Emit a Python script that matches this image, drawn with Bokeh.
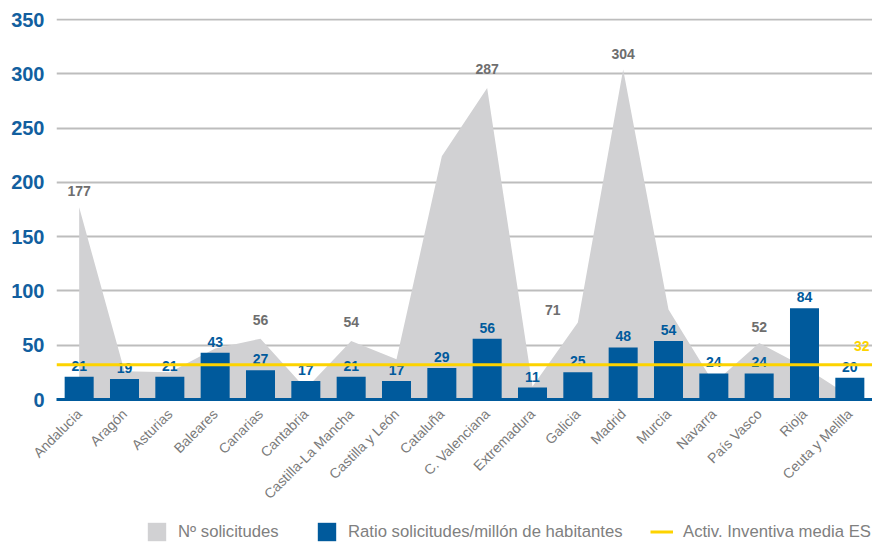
from bokeh.plotting import figure
from bokeh.models import (ColumnDataSource, FactorRange, Range1d, Span, Legend, LegendItem)
from bokeh.layouts import column
from bokeh.core.properties import value
from bokeh.embed import file_html
from bokeh.resources import INLINE
import math

# ---------------- data ----------------
regions = ["Andalucia", "Aragón", "Asturias", "Baleares", "Canarias", "Cantabria",
           "Castilla-La Mancha", "Castilla y León", "Cataluña", "C. Valenciana",
           "Extremadura", "Galicia", "Madrid", "Murcia", "Navarra", "País Vasco",
           "Rioja", "Ceuta y Melilla"]
solicitudes = [177, 26, 25, 47, 56, 10, 54, 37, 224, 287, 12, 71, 304, 83, 15, 52, 30, 3]
solicitudes_labels = ["177", "", "", "", "56", "", "54", "", "", "287", "", "71",
                      "304", "", "", "52", "", ""]
ratio = [21, 19, 21, 43, 27, 17, 21, 17, 29, 56, 11, 25, 48, 54, 24, 24, 84, 20]
media_es = 32
y_ticks = [0, 50, 100, 150, 200, 250, 300, 350]

series_names = ["Nº solicitudes", "Ratio solicitudes/millón de habitantes",
                "Activ. Inventiva media ES"]

# ---------------- style ----------------
BLUE = "#005a9c"
GRAY_AREA = "#d1d1d3"
GRID = "#bdbdbd"
YELLOW = "#fdd300"
TXT_GRAY = "#6e6e6e"
AXIS_BLUE = "#125f9f"
ARIAL = "'Liberation Sans', Arial, sans-serif"

p = figure(width=872, height=520, x_range=FactorRange(factors=regions, range_padding=0),
           y_range=Range1d(0, 351), output_backend="svg", toolbar_location=None,
           min_border_left=56, min_border_right=0, min_border_top=18, min_border_bottom=121)
p.outline_line_color = None
p.background_fill_color = "white"

# grid
p.xgrid.grid_line_color = None
p.ygrid.grid_line_color = GRID
p.ygrid.grid_line_width = 2
p.yaxis.ticker = y_ticks

# y axis
p.yaxis.axis_line_color = None
p.yaxis.major_tick_line_color = None
p.yaxis.minor_tick_line_color = None
p.yaxis.major_tick_out = 0
p.yaxis.major_tick_in = 0
p.yaxis.major_label_standoff = 12
p.yaxis.major_label_text_font = ARIAL
p.yaxis.major_label_text_font_size = "20px"
p.yaxis.major_label_text_font_style = "bold"
p.yaxis.major_label_text_color = AXIS_BLUE

# x axis
p.xaxis.axis_line_color = BLUE
p.xaxis.axis_line_width = 3
p.xaxis.major_tick_line_color = None
p.xaxis.minor_tick_line_color = None
p.xaxis.major_tick_out = 0
p.xaxis.major_tick_in = 0
p.xaxis.major_label_orientation = math.pi / 4
p.xaxis.major_label_standoff = 12
p.xaxis.major_label_text_font = ARIAL
p.xaxis.major_label_text_font_size = "14px"
p.xaxis.major_label_text_color = "#7a7a7a"

src = ColumnDataSource(dict(region=regions, sol=solicitudes, sol_lab=solicitudes_labels,
                            ratio=ratio, ratio_lab=[str(v) for v in ratio]))
src.data["lab_dx"] = [(-25 if r == "Galicia" else 0) for r in regions]
src.data["lab_dy"] = [(-12 if r == "Galicia" else -19 if r in ("C. Valenciana", "Canarias", "Castilla-La Mancha") else -16)
                      for r in regions]

area = p.varea(x="region", y1=0, y2="sol", source=src, fill_color=GRAY_AREA)

p.text(x="region", y="sol", text="sol_lab", source=src, x_offset="lab_dx", y_offset="lab_dy",
       text_align="center", text_baseline="alphabetic", text_font=value(ARIAL),
       text_font_size="14px", text_font_style="bold", text_color=TXT_GRAY)

bars = p.vbar(x="region", top="ratio", bottom=0, width=0.64, source=src,
              fill_color=BLUE, line_color=None)

p.text(x="region", y="ratio", text="ratio_lab", source=src, y_offset=-11,
       text_align="center", text_baseline="alphabetic", text_font=value(ARIAL),
       text_font_size="14px", text_font_style="bold", text_color=BLUE)

p.add_layout(Span(location=media_es, dimension="width", line_color=YELLOW, line_width=3))
p.text(x=[regions[-1]], y=[media_es], text=[str(media_es)], x_offset=12, y_offset=-19,
       text_align="center", text_baseline="alphabetic", text_font=value(ARIAL),
       text_font_size="14px", text_font_style="bold", text_color=YELLOW)

# ---------------- legend strip ----------------
lg = figure(width=872, height=29, x_range=Range1d(0, 1), y_range=Range1d(10, 11),
            output_backend="svg", toolbar_location=None,
            x_axis_location=None, y_axis_location=None,
            min_border_left=0, min_border_right=0, min_border_top=0, min_border_bottom=0)
lg.grid.visible = False
lg.outline_line_color = None
# legend swatches only (kept outside the visible range of the strip)
r_area = lg.varea(x=[0, 1], y1=[0, 0], y2=[0, 0], fill_color=GRAY_AREA)
r_bar = lg.vbar(x=[0], top=[0], bottom=0, width=0.5, fill_color=BLUE, line_color=None)
r_line = lg.line(x=[0, 1], y=[0, 0], line_color=YELLOW, line_width=3)

# the strip's frame is aligned with the chart frame by the column layout
for name, rend, xloc in zip(series_names, [r_area, r_bar, r_line], [89, 259, 594]):
    leg = Legend(items=[LegendItem(label=name, renderers=[rend])],
                 orientation="horizontal", location=(xloc, 6),
                 glyph_width=23, glyph_height=23, label_height=23,
                 label_standoff=10, padding=0, margin=0,
                 border_line_color=None, background_fill_alpha=0,
                 label_text_font=ARIAL, label_text_font_size="16.7px",
                 label_text_color="#808080", label_text_baseline="middle")
    lg.add_layout(leg, "center")

layout = column(p, lg, spacing=0)
open("out.html", "w").write(file_html(layout, INLINE))
